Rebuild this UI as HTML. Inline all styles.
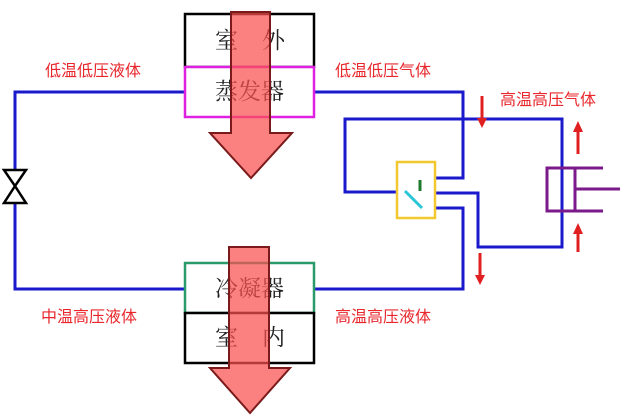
<!DOCTYPE html>
<html><head><meta charset="utf-8"><style>
html,body{margin:0;padding:0;background:#fff;width:624px;height:420px;overflow:hidden}
svg{display:block}
.l{font-family:"Liberation Sans","Noto Sans CJK SC",sans-serif;font-size:16px;fill:#e8262b}
.b{font-family:"Liberation Serif","Noto Serif CJK SC",serif;font-size:23px;fill:#222}
</style></head><body>
<svg width="624" height="420" viewBox="0 0 624 420">
<g fill="none" stroke="#1a1acc" stroke-width="3">
<polyline points="185,92 15,92 15,289 185,289"/>
<polyline points="314,92 463,92 463,178 427,178"/>
<polyline points="314,289 463,289 463,208 427,208"/>
<polyline points="427,193 478,193 478,247 562,247 562,119 345,119 345,192 397,192"/>
</g>
<g fill="#fff" stroke="#000" stroke-width="2.5">
<polygon points="4,170 26,170 15,186 26,203 4,203 15,186"/>
</g>
<rect x="397" y="162" width="38" height="56" fill="#fff" stroke="#f2c830" stroke-width="2.5"/>
<line x1="420" y1="180" x2="420" y2="191" stroke="#1d7a2e" stroke-width="3"/>
<line x1="405" y1="191" x2="422" y2="208" stroke="#2cc7d6" stroke-width="3"/>
<g stroke="#7b1a8a" stroke-width="3" fill="none">
<rect x="547" y="168" width="28" height="43"/>
<line x1="575" y1="168" x2="603" y2="168"/>
<line x1="575" y1="211" x2="603" y2="211"/>
<line x1="575" y1="189" x2="620" y2="189"/>
</g>
<g stroke="#e02020" stroke-width="3" fill="#e02020">
<line x1="482" y1="96" x2="482" y2="120"/><polygon points="477,118 487,118 482,128" stroke="none"/>
<line x1="480" y1="253" x2="480" y2="277"/><polygon points="475,275 485,275 480,285" stroke="none"/>
<line x1="578" y1="130" x2="578" y2="154"/><polygon points="573,132 583,132 578,121" stroke="none"/>
<line x1="578" y1="232" x2="578" y2="252"/><polygon points="573,234 583,234 578,223" stroke="none"/>
</g>
<rect x="185" y="14" width="129" height="53" fill="#fff" stroke="#000" stroke-width="2.5"/>
<rect x="185" y="67" width="129" height="50" fill="#fff" stroke="#e020e0" stroke-width="2.5"/>
<rect x="185" y="263" width="129" height="50" fill="#fff" stroke="#2a9a6a" stroke-width="2.5"/>
<rect x="185" y="313" width="129" height="50" fill="#fff" stroke="#000" stroke-width="2.5"/>
<text class="b" x="215" y="48">室</text><text class="b" x="262" y="48">外</text>
<text class="b" x="215" y="99">蒸发器</text>
<text class="b" x="215" y="296">冷凝器</text>
<text class="b" x="215" y="345">室</text><text class="b" x="262" y="345">内</text>
<polygon points="231,12 270,12 270,133 292,133 251,178 210,133 231,133" fill="rgba(250,80,80,0.72)" stroke="#7a1a1a" stroke-width="2"/>
<polygon points="229,247 269,247 269,368 290,368 250,413 210,368 229,368" fill="rgba(250,80,80,0.72)" stroke="#7a1a1a" stroke-width="2"/>
<text class="l" x="45" y="76">低温低压液体</text>
<text class="l" x="335" y="76">低温低压气体</text>
<text class="l" x="500" y="105">高温高压气体</text>
<text class="l" x="41" y="322">中温高压液体</text>
<text class="l" x="335" y="322">高温高压液体</text>
</svg>
</body></html>
